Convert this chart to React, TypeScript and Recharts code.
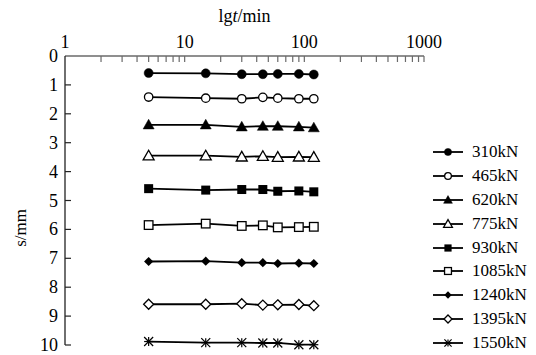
import React from 'react';
import { LineChart, Line, XAxis, YAxis, Legend } from 'recharts';

// time points (min)
const TIMES = [5, 15, 30, 45, 60, 90, 120];

const LOADS = ['310kN', '465kN', '620kN', '775kN', '930kN', '1085kN', '1240kN', '1395kN', '1550kN'];
const MARKERS = ['circle', 'circleOpen', 'triangle', 'triangleOpen', 'square', 'squareOpen', 'diamond', 'diamondOpen', 'star'];

// settlement s (mm) for each load step
const S_310 = [0.59, 0.6, 0.63, 0.63, 0.62, 0.62, 0.64];
const S_465 = [1.42, 1.46, 1.48, 1.43, 1.46, 1.48, 1.48];
const S_620 = [2.38, 2.38, 2.45, 2.43, 2.43, 2.45, 2.48];
const S_775 = [3.45, 3.45, 3.49, 3.47, 3.5, 3.49, 3.5];
const S_930 = [4.59, 4.64, 4.62, 4.62, 4.68, 4.67, 4.7];
const S_1085 = [5.85, 5.8, 5.88, 5.86, 5.93, 5.92, 5.91];
const S_1240 = [7.11, 7.1, 7.15, 7.15, 7.18, 7.17, 7.18];
const S_1395 = [8.59, 8.59, 8.57, 8.62, 8.61, 8.6, 8.64];
const S_1550 = [9.88, 9.92, 9.92, 9.93, 9.93, 9.99, 9.99];
const SERIES_VALUES = [S_310, S_465, S_620, S_775, S_930, S_1085, S_1240, S_1395, S_1550];

const X_TICKS = [1, 2, 3, 4, 5, 6, 7, 8, 9, 10, 20, 30, 40, 50, 60, 70, 80, 90, 100, 200, 300, 400, 500, 600, 700, 800, 900, 1000];
const X_LABELS = [1, 10, 100, 1000];
const Y_TICKS = [0, 1, 2, 3, 4, 5, 6, 7, 8, 9, 10];

const FONT = '"Liberation Serif", "Times New Roman", serif';
const TEXT = '#000';

const data = TIMES.map((t, i) => {
  const row: any = { t };
  LOADS.forEach((name, k) => {
    row[name] = SERIES_VALUES[k][i];
  });
  return row;
});

function Marker({ cx, cy, shape, k = 1 }: { cx: number; cy: number; shape: string; k?: number }) {
  const sw = 1.3;
  switch (shape) {
    case 'circle':
      return <circle cx={cx} cy={cy} r={4.5 * k} fill="#000" stroke="#000" strokeWidth={0.5} />;
    case 'circleOpen':
      return <circle cx={cx} cy={cy} r={4.2 * k} fill="#fff" stroke="#000" strokeWidth={sw} />;
    case 'triangle':
    case 'triangleOpen': {
      const s = 5.5 * k;
      const pts = `${cx},${cy - s} ${cx + s},${cy + s * 0.75} ${cx - s},${cy + s * 0.75}`;
      return shape === 'triangle'
        ? <polygon points={pts} fill="#000" stroke="#000" strokeWidth={0.5} />
        : <polygon points={pts} fill="#fff" stroke="#000" strokeWidth={sw} />;
    }
    case 'square':
      return <rect x={cx - 4.5 * k} y={cy - 4.5 * k} width={9 * k} height={9 * k} fill="#000" />;
    case 'squareOpen':
      return <rect x={cx - 4.3 * k} y={cy - 4.3 * k} width={8.6 * k} height={8.6 * k} fill="#fff" stroke="#000" strokeWidth={sw} />;
    case 'diamond':
    case 'diamondOpen': {
      const s = (shape === 'diamond' ? 4.6 : 5) * k;
      const pts = `${cx},${cy - s} ${cx + s},${cy} ${cx},${cy + s} ${cx - s},${cy}`;
      return shape === 'diamond'
        ? <polygon points={pts} fill="#000" />
        : <polygon points={pts} fill="#fff" stroke="#000" strokeWidth={sw} />;
    }
    default: {
      const s = 4.5 * k;
      return (
        <g stroke="#000" strokeWidth={1.2}>
          <line x1={cx - s} y1={cy - s} x2={cx + s} y2={cy + s} />
          <line x1={cx - s} y1={cy + s} x2={cx + s} y2={cy - s} />
          <line x1={cx - s} y1={cy} x2={cx + s} y2={cy} />
          <line x1={cx} y1={cy - s} x2={cx} y2={cy + s} />
        </g>
      );
    }
  }
}

const renderXTick = (p: any) => {
  const v = p.payload.value;
  return (
    <g key={`xt-${v}`}>
      {v !== 1 && <line x1={p.x} y1={p.y} x2={p.x} y2={p.y + 6} stroke="#6a6a6a" strokeWidth={1.2} />}
      {X_LABELS.includes(v) && (
        <text x={p.x} y={p.y - 8} textAnchor="middle" fontSize={18} fill={TEXT} fontFamily={FONT}>{v}</text>
      )}
    </g>
  );
};

const renderYTick = (p: any) => {
  const v = p.payload.value;
  return (
    <g key={`yt-${v}`}>
      {v !== 0 && <line x1={p.x} y1={p.y} x2={p.x + 6} y2={p.y} stroke="#222" strokeWidth={1.2} />}
      <text x={p.x - 7} y={p.y} textAnchor="end" dominantBaseline="central" fontSize={18} fill={TEXT} fontFamily={FONT}>{v}</text>
    </g>
  );
};

const renderLegend = () => (
  <div style={{ fontFamily: FONT, fontSize: 17, color: TEXT }}>
    {LOADS.map((name, k) => (
      <div key={name} style={{ display: 'flex', alignItems: 'center', height: 23.9 }}>
        <svg width={39} height={14} style={{ display: 'block' }}>
          <line x1={0} y1={7} x2={30} y2={7} stroke="#000" strokeWidth={1.8} />
          <Marker cx={15} cy={7} shape={MARKERS[k]} k={0.8} />
        </svg>
        <span>{name}</span>
      </div>
    ))}
  </div>
);

export default function App() {
  return (
    <div style={{ position: 'absolute', left: 0, top: 0, width: 536, height: 355, background: '#fff', fontFamily: FONT }}>
      <LineChart width={536} height={355} data={data} margin={{ top: 26, right: 112, bottom: 10, left: 25 }}>
        <XAxis
          dataKey="t"
          type="number"
          scale="log"
          domain={[1, 1000]}
          orientation="top"
          ticks={X_TICKS}
          interval={0}
          height={30}
          tickLine={false}
          tickSize={0}
          tickMargin={0}
          axisLine={{ stroke: '#6a6a6a', strokeWidth: 1.3 }}
          tick={renderXTick}
          allowDataOverflow
          label={{
            content: (props: any) => {
              const vb = props.viewBox || { x: 65, y: 26, width: 359 };
              return (
                <text x={vb.x + vb.width / 2} y={vb.y - 4} textAnchor="middle" fontSize={18} fill={TEXT} fontFamily={FONT}>
                  lg<tspan fontStyle="italic">t</tspan>/min
                </text>
              );
            },
          }}
        />
        <YAxis
          type="number"
          domain={[0, 10]}
          reversed
          ticks={Y_TICKS}
          interval={0}
          width={40}
          tickLine={false}
          tickSize={0}
          tickMargin={0}
          axisLine={{ stroke: '#222', strokeWidth: 1.3 }}
          tick={renderYTick}
          label={{
            content: (props: any) => {
              const vb = props.viewBox || { x: 25, y: 56, height: 289 };
              const x = vb.x - 4;
              const y = vb.y + vb.height * 0.595;
              return (
                <text x={x} y={y} transform={`rotate(-90, ${x}, ${y})`} textAnchor="middle" dominantBaseline="central" fontSize={17} fill={TEXT} fontFamily={FONT}>
                  s/mm
                </text>
              );
            },
          }}
        />
        <Legend
          layout="vertical"
          align="center"
          verticalAlign="middle"
          wrapperStyle={{ left: 433, top: 140, width: 103, height: 'auto' }}
          content={renderLegend}
        />
        {LOADS.map((name, k) => (
          <Line
            key={name}
            dataKey={name}
            type="linear"
            stroke="#000"
            strokeWidth={1.8}
            isAnimationActive={false}
            activeDot={false}
            dot={(p: any) => <Marker key={`${name}-${p.index}`} cx={p.cx} cy={p.cy} shape={MARKERS[k]} />}
          />
        ))}
      </LineChart>
    </div>
  );
}
